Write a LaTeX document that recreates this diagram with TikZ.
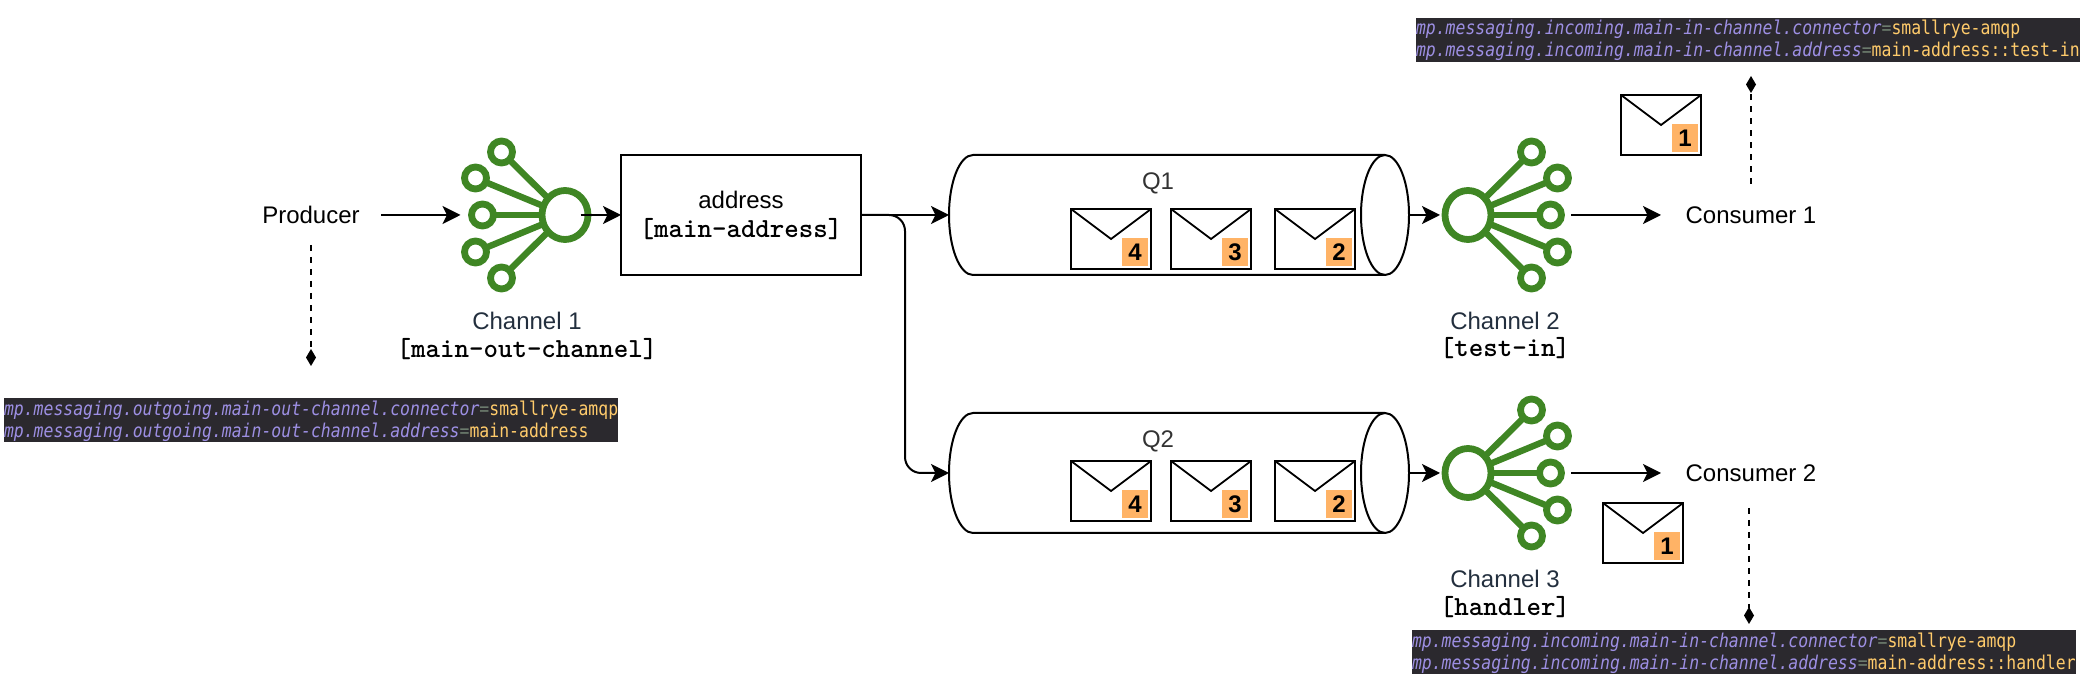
\documentclass[tikz,border=0pt]{standalone}
\usepackage{fontspec}
\setmainfont{Liberation Sans}
\newfontfamily\codefont[FakeStretch=0.866]{DejaVu Sans Mono}
\usetikzlibrary{arrows.meta}
\definecolor{chgreen}{HTML}{3F8624}
\definecolor{chtext}{HTML}{232F3E}
\definecolor{qtext}{HTML}{333333}
\definecolor{badgeor}{HTML}{FFB366}
\definecolor{codebg}{HTML}{2B292E}
\definecolor{codepurple}{HTML}{9D8FE3}
\definecolor{codeyellow}{HTML}{FFCB6B}
\definecolor{codegrey}{HTML}{6F7F70}
\newcommand{\cdkey}[1]{{\itshape\color{codepurple}#1}}
\newcommand{\cdeq}{{\color{codegrey}=}}
\newcommand{\cdval}[1]{{\color{codeyellow}#1}}
\newcommand{\sanstxt}{\fontsize{12}{14}\selectfont}
\newcommand{\slabtxt}{\fontsize{13.8}{15}\ttfamily\bfseries\selectfont}
\tikzset{
  x=0.5pt,y=-0.5pt,
  every node/.style={inner sep=0pt,outer sep=0pt},
  ln/.style={line width=1pt,draw=black},
  arr/.style={ln,-{Stealth[length=9pt,width=9pt,inset=2.2pt]}},
  dsh/.style={line width=1pt,draw=black,dash pattern=on 3.2pt off 2.8pt,-{Turned Square[length=8.5pt,width=5pt]}},
  dshthin/.style={dsh,line width=0.7pt},
  sans/.style={font=\sanstxt,text=black},
  chlabel/.style={font=\sanstxt,text=chtext},
  qlabel/.style={font=\sanstxt,text=qtext},
  slab/.style={font=\slabtxt,text=black},
  ghost/.style={minimum height=30pt},
  addrbox/.style={ln,fill=white,minimum width=120pt,minimum height=60pt},
  envbox/.style={ln,fill=white,minimum width=40pt,minimum height=30pt},
  badge/.style={fill=badgeor,minimum width=13pt,minimum height=14pt,font=\sanstxt\bfseries,text=black},
  codebar/.style={fill=codebg,minimum height=22pt},
  codeline/.style={anchor=base west,font=\codefont\fontsize{9.5}{11}\selectfont},
  spoke/.style={line width=3.2pt,draw=chgreen},
  ring/.style={line width=3.4pt,draw=chgreen,fill=white},
}
% hub position x,y; mirror sign
\newcommand{\chanicon}[3]{%
  \begin{scope}[shift={(#1,#2)},xscale=#3]
    \foreach \a/\b in {-63.5/-63,-89.5/-37,-82.5/0,-89.5/37,-63.5/63}{
      \draw[spoke] (0,0) -- (\a,\b);
    }
    \foreach \a/\b in {-63.5/-63,-89.5/-37,-82.5/0,-89.5/37,-63.5/63}{
      \draw[ring] (\a,\b) circle[radius=11];
    }
    \draw[ring] (0,0) ellipse[x radius=23,y radius=24.5];
  \end{scope}}
% cylinder: node name, left, top
\newcommand{\tube}[3]{%
  \node[minimum width=230pt,minimum height=60pt] (#1) at (#2+230,#3+60) {};
  \draw[ln,fill=white] (#2+24,#3) -- (#2+436,#3) arc[start angle=90,end angle=-90,x radius=12pt,y radius=30pt]
    -- (#2+24,#3+120) arc[start angle=270,end angle=90,x radius=12pt,y radius=30pt] -- cycle;
  \draw[ln] (#2+436,#3) arc[start angle=90,end angle=270,x radius=12pt,y radius=30pt];}
% envelope: name, left, top, number
\newcommand{\envelope}[4]{%
  \node[envbox] (#1) at (#2+40,#3+30) {};
  \draw[line width=0.9pt] (#1.north west) -- (#2+40,#3+30) -- (#1.north east);
  \node[badge] (#1n) at (#2+64,#3+43) {#4};}
\begin{document}
\begin{tikzpicture}
\useasboundingbox (0,0) rectangle (2090,694);

% channels
\chanicon{565}{215}{1}
\chanicon{1468}{215}{-1}
\chanicon{1468}{473}{-1}
\node[minimum width=60pt,minimum height=60pt] (chan1) at (520.5,215) {};
\node[minimum width=65.5pt,minimum height=60pt] (chan2) at (1505.5,215) {};
\node[minimum width=65.5pt,minimum height=60pt] (chan3) at (1505.5,473) {};

% producer / consumers
\node[sans,ghost,minimum width=70pt] (producer) at (311,215) {Producer};
\node[sans,ghost,minimum width=90pt] (consumer1) at (1751,215) {Consumer 1};
\node[sans,ghost,minimum width=90pt] (consumer2) at (1751,473) {Consumer 2};

% address
\node[addrbox] (addr) at (741,215) {};
\node[sans] (addrtext) at (741,200) {address};
\node[slab] (addrname) at (741,229) {[main-address]};

% queues
\tube{q1}{949}{155}
\tube{q2}{949}{413}
\node[qlabel] (q1label) at (1158,183) {Q1};
\node[qlabel] (q2label) at (1158,441) {Q2};
\envelope{ea}{1071}{209}{4}
\envelope{eb}{1171}{209}{3}
\envelope{ec}{1275}{209}{2}
\envelope{ed}{1071}{461}{4}
\envelope{ee}{1171}{461}{3}
\envelope{ef}{1275}{461}{2}
\envelope{eg}{1621}{95}{1}
\envelope{eh}{1603}{503}{1}

% labels
\node[chlabel] (c1a) at (527,321) {Channel 1};
\node[slab] (c1b) at (527,349) {[main-out-channel]};
\node[chlabel] (c2a) at (1505,321) {Channel 2};
\node[slab] (c2b) at (1505,348) {[test-in]};
\node[chlabel] (c3a) at (1505,579) {Channel 3};
\node[slab] (c3b) at (1505,607) {[handler]};

% connectors
\coordinate (elbowA) at (905,215);
\coordinate (elbowB) at (905,473);
\draw[arr] (producer.east) -- (chan1.west);
\draw[arr] (chan1.east) -- (addr.west);
\draw[arr] (addr.east) -- (q1.west);
\draw[arr,rounded corners=8pt] (addr.east) -- (elbowA) -- (elbowB) -- (q2.west);
\draw[arr] (q1.east) -- (chan2.west);
\draw[arr] (q2.east) -- (chan3.west);
\draw[arr] (chan2.east) -- (consumer1.west);
\draw[arr] (chan3.east) -- (consumer2.west);

% code bars
\node[codebar,minimum width=306.75pt] (bar1) at (310.75,420) {};
\node[codebar,minimum width=332pt] (bar2) at (1748,40) {};
\node[codebar,minimum width=331.75pt] (bar3) at (1743.75,652) {};
\node[codeline] (b1a) at (4,416) {\cdkey{mp.messaging.outgoing.main-out-channel.connector}\cdeq\cdval{smallrye-amqp}};
\node[codeline] (b1b) at (4,438) {\cdkey{mp.messaging.outgoing.main-out-channel.address}\cdeq\cdval{main-address}};
\node[codeline] (b2a) at (1416,35) {\cdkey{mp.messaging.incoming.main-in-channel.connector}\cdeq\cdval{smallrye-amqp}};
\node[codeline] (b2b) at (1416,57) {\cdkey{mp.messaging.incoming.main-in-channel.address}\cdeq\cdval{main-address::test-in}};
\node[codeline] (b3a) at (1412,648) {\cdkey{mp.messaging.incoming.main-in-channel.connector}\cdeq\cdval{smallrye-amqp}};
\node[codeline] (b3b) at (1412,670) {\cdkey{mp.messaging.incoming.main-in-channel.address}\cdeq\cdval{main-address::handler}};

% dashed links
\coordinate (d1a) at (311,245);
\coordinate (d1b) at (311,366);
\coordinate (d2a) at (1751,184);
\coordinate (d2b) at (1751,76);
\coordinate (d3a) at (1749,508);
\coordinate (d3b) at (1749,624);
\draw[dsh] (d1a) -- (d1b);
\draw[dsh] (d2a) -- (d2b);
\draw[dshthin] (d3a) -- (d3b);
\end{tikzpicture}
\end{document}
